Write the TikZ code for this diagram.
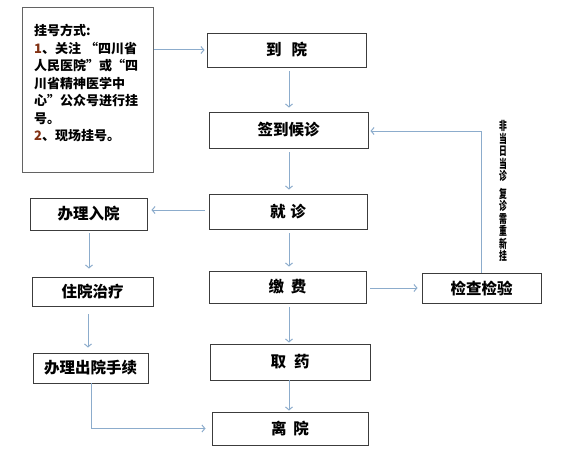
\documentclass[tikz,border=0pt]{standalone}
\usepackage{fontspec}
\usepackage{graphicx}
\setmainfont{Noto Sans CJK SC}
\usetikzlibrary{arrows.meta}
\definecolor{arr}{RGB}{140,172,204}
\definecolor{bd}{RGB}{60,60,60}
\definecolor{num}{RGB}{130,50,20}
\newcommand\vc[1]{\scalebox{0.65}[1]{#1}}
\begin{document}
\begin{tikzpicture}[x=1pt,y=-1pt,
  box/.style={draw=bd,line width=0.9pt,inner sep=0pt,font=\fontsize{15.5}{17}\selectfont\bfseries},
  flow/.style={draw=arr,line width=1pt,-{Straight Barb[length=3pt,width=7pt]},shorten >=2pt}
]
\useasboundingbox (0,0) rectangle (567,460);
\coordinate (colx) at (289,0);
% boxes
\node[draw=bd!80,line width=0.9pt,minimum width=131pt,minimum height=165pt,inner sep=0pt] (reg) at (87.5,89.5) {};
\node[anchor=north west,inner sep=0pt,align=left,font=\fontsize{13}{17.5}\selectfont\bfseries] (regtxt) at (34,24)
 {挂号方式:\\{\color{num}1}、关注\hspace{4pt}“四川省\\人民医院”或“四\\川省精神医学中\\心”公众号进行挂\\号。\\{\color{num}2}、现场挂号。};
\node[box,minimum width=159pt,minimum height=34pt] (dy) at (286.5,50) {到\hspace{10pt}院};
\node[box,minimum width=159pt,minimum height=36pt] (qd) at (288.5,130) {签到候诊};
\node[box,minimum width=158pt,minimum height=35pt] (jz) at (288,211.5) {就\hspace{5pt}诊};
\node[box,minimum width=157pt,minimum height=32pt] (jf) at (287.5,287) {缴\hspace{7pt}费};
\node[box,minimum width=160pt,minimum height=36pt] (qy) at (290,362) {取\hspace{8pt}药};
\node[box,minimum width=156pt,minimum height=33pt] (ly) at (290,428.5) {离\hspace{7pt}院};
\node[box,minimum width=117pt,minimum height=32pt] (rz) at (88.5,214) {办理入院};
\node[box,minimum width=121pt,minimum height=29pt] (zy) at (92.5,291.5) {住院治疗};
\node[box,minimum width=115pt,minimum height=30pt] (cy) at (90.5,368) {办理出院手续};
\node[box,minimum width=119pt,minimum height=30pt] (jc) at (481.5,288) {检查检验};
\node[inner sep=0pt,align=center,font=\fontsize{12}{12.5}\selectfont\bfseries] (note) at (503,191)
 {\vc{非}\\\vc{当}\\\vc{日}\\\vc{当}\\\vc{诊}\\[5pt]\vc{复}\\\vc{诊}\\\vc{需}\\\vc{重}\\\vc{新}\\\vc{挂}};
% connectors
\draw[flow,shorten <=1pt] (reg.east |- 0,50) -- (dy.west |- 0,50);
\draw[flow,shorten <=4pt,shorten >=4pt] (dy.south -| colx) -- (qd.north -| colx);
\draw[flow,shorten <=4pt,shorten >=4pt] (qd.south -| colx) -- (jz.north -| colx);
\draw[flow,shorten <=4pt,shorten >=4pt] (jz.south -| colx) -- (jf.north -| colx);
\draw[flow,shorten <=4pt,shorten >=1pt] (jf.south -| colx) -- (qy.north -| colx);
\draw[flow,shorten >=1pt] (qy.south -| colx) -- (ly.north -| colx);
\draw[flow,shorten <=4pt,shorten >=4pt] (jz.west |- 0,210) -- (rz.east |- 0,210);
\draw[flow,shorten <=3pt,shorten >=8pt] (rz.south -| 89,0) -- (zy.north -| 89,0);
\draw[flow,shorten <=8pt,shorten >=5pt] (zy.south -| 88,0) -- (cy.north -| 88,0);
\draw[flow,shorten >=6pt] (cy.south -| 91,0) |- (ly.west);
\draw[flow,shorten <=4pt,shorten >=4pt] (jf.east |- 0,288) -- (jc.west |- 0,288);
\draw[flow] (jc.north) |- (qd.east |- 0,131);
\end{tikzpicture}
\end{document}
